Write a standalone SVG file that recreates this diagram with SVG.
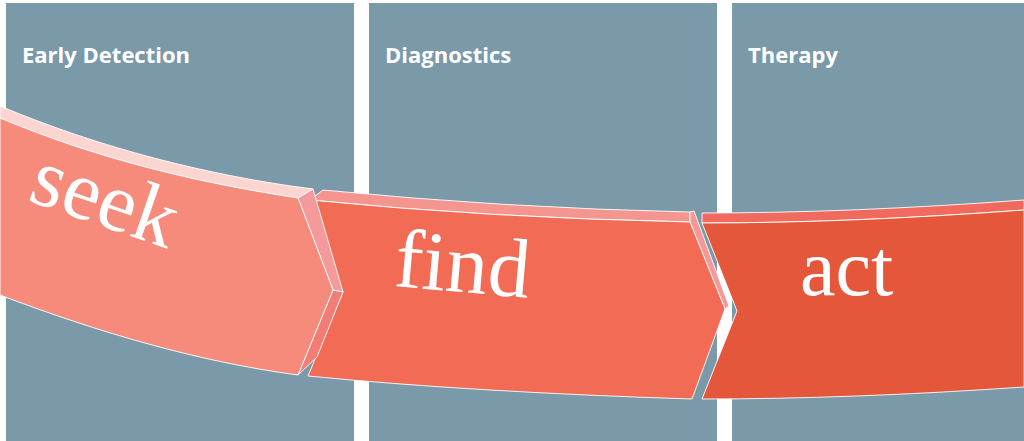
<svg xmlns="http://www.w3.org/2000/svg" width="1024" height="441" viewBox="0 0 1024 441">
<style>
.col{fill:#7A99A9}
.hdr{font-family:"Open Sans","Noto Sans",sans-serif;font-weight:700;font-size:22px;fill:#fff}
.big{font-family:"Liberation Serif","Times New Roman",serif;font-size:80px;fill:#fff}
.edge{stroke:#fff;stroke-width:1;stroke-linejoin:miter;stroke-opacity:0.9}
</style>
<rect width="1024" height="441" fill="#fff"/>
<g id="col-early">
<rect class="col" x="6" y="3" width="348" height="438"/>
<text class="hdr" x="22" y="63">Early Detection</text>
</g>
<g id="col-diagnostics">
<rect class="col" x="369" y="3" width="348" height="438"/>
<text class="hdr" x="385" y="63">Diagnostics</text>
</g>
<g id="col-therapy">
<rect class="col" x="732" y="3" width="292" height="438"/>
<text class="hdr" x="748" y="63">Therapy</text>
</g>
<g id="act">
<path class="edge" d="M702,213 Q850,213 1024,200 L1024,210 Q850,223 702,223 Z" fill="#F06A5E"/>
<path class="edge" d="M702,223 Q850,223 1024,210 L1024,387 Q850,399 702,399 L737,311 Z" fill="#E5573B"/>
<text class="big" x="800" y="295">act</text>
</g>
<g id="find">
<path class="edge" d="M310,200 L323,190 Q506,208 690,212 L690,222 Q490,218 310,200 Z" fill="#F5958F"/>
<path class="edge" d="M690,212 L694,211 L729,306 L725,309 L690,222 Z" fill="#F5989A"/>
<path class="edge" d="M310,200 Q490,218 690,222 L725,309 L692,399 Q472,392 308,376 L343,292 Z" fill="#F26B55"/>
<text class="big" x="393" y="286" style="font-size:84px" transform="rotate(5 393 286)">find</text>
</g>
<g id="seek">
<path class="edge" d="M0,106 C100,148 210,176 313,189 L298,198 C200,183 100,160 0,118 Z" fill="#FCD5D1"/>
<path class="edge" d="M298,198 L313,189 L343,292 L333,290 Z" fill="#F5999A"/>
<path class="edge" d="M333,290 L343,292 L317,357 L298,375 Z" fill="#F47C76"/>
<path class="edge" d="M0,118 C100,160 200,183 298,198 L333,290 L298,375 C200,362 100,333 0,295 Z" fill="#F68B7C"/>
<text class="big" x="26" y="200" style="font-size:84px" transform="rotate(19 26 200)">seek</text>
</g>
</svg>
